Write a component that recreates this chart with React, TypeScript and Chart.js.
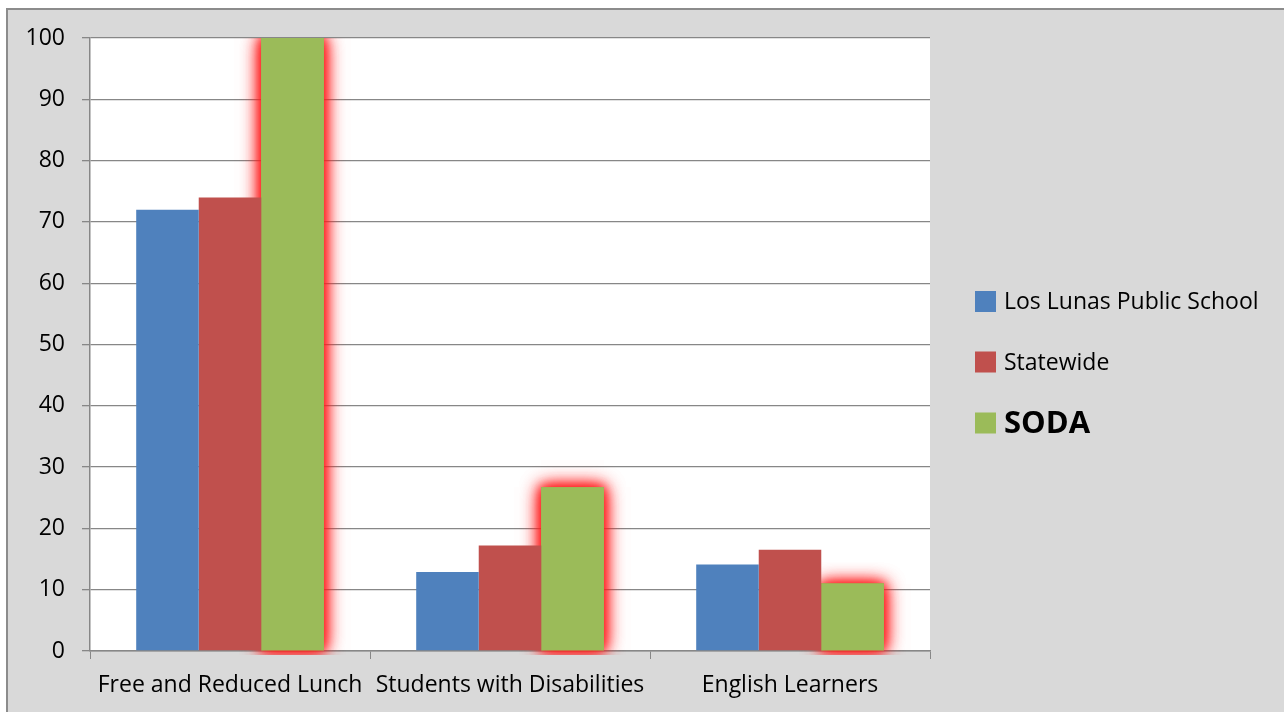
import React, { useEffect, useRef } from "react";
import { Chart, registerables } from "chart.js";

Chart.register(...registerables);

const categories = ["Free and Reduced Lunch", "Students with Disabilities", "English Learners"];
const seriesLabels = ["Los Lunas Public School", "Statewide", "SODA"];
const losLunas = [72, 12.9, 14.1];
const statewide = [74, 17.2, 16.5];
const soda = [100, 26.7, 11];
const yTicks = [0, 10, 20, 30, 40, 50, 60, 70, 80, 90, 100];

const FONT = "'Open Sans', sans-serif";
const GRID = "#878787";
const COLORS = ["#4f81bd", "#c0504d", "#9bbb59"];

const backgroundPlugin = {
  id: "bgPlugin",
  beforeDraw(chart: any) {
    const { ctx, width, height, chartArea } = chart;
    ctx.save();
    ctx.fillStyle = "#ffffff";
    ctx.fillRect(0, 0, width, height);
    ctx.fillStyle = "#d9d9d9";
    ctx.fillRect(7, 9, width - 7, height - 9);
    ctx.strokeStyle = "#8c8c8c";
    ctx.lineWidth = 2;
    ctx.beginPath();
    ctx.moveTo(7, height);
    ctx.lineTo(7, 9);
    ctx.lineTo(width, 9);
    ctx.stroke();
    ctx.fillStyle = "#ffffff";
    ctx.fillRect(chartArea.left, chartArea.top, chartArea.right - chartArea.left, chartArea.bottom - chartArea.top);
    ctx.restore();
  },
};

const glowPlugin = {
  id: "glowPlugin",
  beforeDatasetDraw(chart: any, args: any) {
    if (args.index === 2) {
      const ctx = chart.ctx;
      const area = chart.chartArea;
      ctx.save();
      ctx.beginPath();
      ctx.rect(area.left - 40, area.top, area.right - area.left + 80, area.bottom - area.top + 4);
      ctx.clip();
      ctx.shadowColor = "rgba(255,30,30,1)";
      ctx.shadowOffsetX = 0;
      ctx.shadowOffsetY = 0;
      ctx.shadowBlur = 18;
      args.meta.data.forEach((el: any) => el.draw(ctx, area));
      args.meta.data.forEach((el: any) => el.draw(ctx, area));
      ctx.shadowBlur = 10;
      args.meta.data.forEach((el: any) => el.draw(ctx, area));
      ctx.restore();
    }
  },
};

const legendPlugin = {
  id: "customLegend",
  afterDraw(chart: any) {
    const ctx = chart.ctx;
    const x0 = 975;
    const yCenters = [301.5, 362, 423];
    ctx.save();
    chart.data.datasets.forEach((ds: any, i: number) => {
      const yc = yCenters[i];
      ctx.fillStyle = ds.backgroundColor;
      ctx.fillRect(x0, yc - 10.5, 21, 21);
      ctx.fillStyle = "#000000";
      ctx.textBaseline = "middle";
      ctx.textAlign = "left";
      ctx.font = i === 2 ? `bold 31px ${FONT}` : `23px ${FONT}`;
      ctx.fillText(ds.label, 1004, yc + 1);
    });
    ctx.restore();
  },
};

export default function App() {
  const ref = useRef<HTMLCanvasElement>(null);
  useEffect(() => {
    document.body.style.margin = "0";
    const canvas = ref.current!;
    const chart = new Chart(canvas, {
      type: "bar",
      data: {
        labels: categories,
        datasets: [losLunas, statewide, soda].map((d, i) => ({
          label: seriesLabels[i],
          data: d,
          backgroundColor: COLORS[i],
          borderWidth: 0,
          categoryPercentage: 0.67,
          barPercentage: 1,
          clip: { left: 40, right: 40, top: 0, bottom: 4 },
        })),
      },
      options: {
        animation: false,
        responsive: false,
        devicePixelRatio: 1,
        layout: { padding: { top: 38, right: 354, left: 0, bottom: 0 } },
        plugins: { legend: { display: false }, tooltip: { enabled: false } },
        scales: {
          x: {
            offset: true,
            grid: { drawOnChartArea: false, drawTicks: true, tickLength: 8, color: GRID, offset: true },
            border: { color: GRID, width: 1.5 },
            ticks: { color: "#000", font: { family: FONT, size: 23 }, padding: 13, maxRotation: 0, autoSkip: false },
            afterFit: (s: any) => { s.height = 61; },
          },
          y: {
            min: 0,
            max: 100,
            afterBuildTicks: (s: any) => { s.ticks = yTicks.map((v) => ({ value: v })); },
            grid: { color: GRID, lineWidth: 1.3, tickLength: 8 },
            border: { color: GRID, width: 1.5 },
            ticks: { color: "#000", font: { family: FONT, size: 23 }, padding: 17 },
            afterFit: (s: any) => { s.width = 90; },
          },
        },
      },
      plugins: [backgroundPlugin, glowPlugin, legendPlugin],
    });
    return () => chart.destroy();
  }, []);
  return (
    <div style={{ position: "absolute", left: 0, top: 0, width: 1284, height: 712 }}>
      <canvas ref={ref} width={1284} height={712} />
    </div>
  );
}
